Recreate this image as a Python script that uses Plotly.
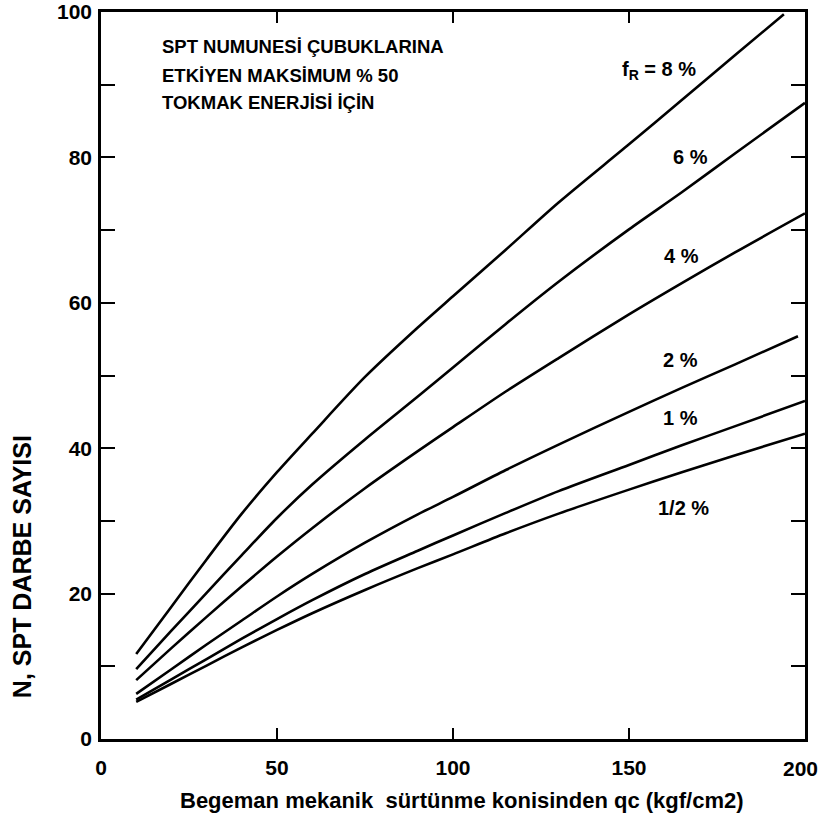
import plotly.graph_objects as go

# x positions (qc, kgf/cm2)
qc = [10, 20, 30, 40, 50, 60, 75, 90, 100, 115, 130, 150, 165, 180, 200]

n_half = [5.1, 7.6, 10.1, 12.6, 15.0, 17.3, 20.5, 23.5, 25.4, 28.3, 31.0, 34.3, 36.7, 39.0, 42.0]
n_1 = [5.4, 8.2, 11.0, 13.8, 16.5, 19.1, 22.7, 25.9, 28.0, 31.1, 34.1, 37.7, 40.4, 43.0, 46.5]
n_2 = [6.2, 9.6, 13.0, 16.3, 19.6, 22.7, 27.0, 30.9, 33.3, 37.0, 40.5, 45.0, 48.3, 51.5, 55.4]
n_4 = [8.1, 12.5, 16.8, 21.0, 25.1, 29.0, 34.5, 39.6, 42.9, 47.8, 52.4, 58.4, 62.7, 66.9, 72.3]
n_6 = [9.6, 14.9, 20.1, 25.3, 30.4, 35.0, 41.2, 47.1, 51.1, 57.1, 62.9, 70.1, 75.2, 80.5, 87.5]

qc_8 = [10, 20, 30, 40, 50, 60, 75, 90, 100, 115, 130, 150, 165, 180, 194]
n_8 = [11.7, 18.2, 24.7, 31.0, 36.7, 42.0, 49.8, 56.6, 60.9, 67.3, 73.8, 81.8, 87.9, 94.0, 99.7]

qc_short = [10, 20, 30, 40, 50, 60, 75, 90, 100, 115, 130, 150, 165, 180, 198]

series = [
    (qc, n_half), (qc, n_1), (qc_short, n_2),
    (qc, n_4), (qc, n_6), (qc_8, n_8),
]

curve_labels = ["1/2 %", "1 %", "2 %", "4 %", "6 %", "f<sub>R</sub> = 8 %"]
label_x = [165.5, 164.5, 164.5, 165, 167.5, 158.5]
label_y = [31.8, 44.2, 52.2, 66.4, 80.0, 92.0]

note_lines = ["SPT NUMUNESİ ÇUBUKLARINA", "ETKİYEN MAKSİMUM % 50", "TOKMAK ENERJİSİ İÇİN"]
note_y = [95.2, 91.3, 87.6]

x_ticks = [0, 50, 100, 150]
last_x_label = "200"
y_ticks = [0, 20, 40, 60, 80, 100]

FONT = "Liberation Sans"

fig = go.Figure()
for xs, ys in series:
    fig.add_trace(go.Scatter(x=xs, y=ys, mode="lines",
                             line=dict(color="black", width=2.6, shape="spline", smoothing=0.8),
                             showlegend=False, hoverinfo="skip"))

for t, x, y in zip(curve_labels, label_x, label_y):
    fig.add_annotation(x=x, y=y, xref="x", yref="y", text=t, showarrow=False,
                       font=dict(family=FONT, size=20, color="black", weight="bold"),
                       xanchor="center", yanchor="middle")

for t, y in zip(note_lines, note_y):
    fig.add_annotation(x=16.7, y=y, xref="x", yref="y", text=t, showarrow=False,
                       font=dict(family=FONT, size=18.5, color="black", weight="bold"),
                       xanchor="left", yanchor="middle")

fig.add_annotation(x=-0.113, y=0.237, xref="paper", yref="paper", text="N, SPT DARBE SAYISI",
                   showarrow=False, textangle=-90, xanchor="center", yanchor="middle",
                   font=dict(family=FONT, size=25, color="black", weight="bold"))
fig.add_annotation(x=0.513, y=-0.084, xref="paper", yref="paper",
                   text="Begeman mekanik  sürtünme konisinden qc (kgf/cm2)", showarrow=False,
                   xanchor="center", yanchor="middle",
                   font=dict(family=FONT, size=22, color="black", weight="bold"))
# last x tick label, kept inside the page edge
fig.add_annotation(x=1.0, y=-0.04, xref="paper", yref="paper", text=last_x_label, showarrow=False,
                   xanchor="center", yanchor="middle", xshift=-5,
                   font=dict(family=FONT, size=21, color="black", weight="bold"))

fig.update_layout(
    width=821, height=818,
    margin=dict(l=101, r=16, t=12, b=79),
    paper_bgcolor="white", plot_bgcolor="white",
    xaxis=dict(range=[0, 200], tickvals=x_ticks, ticks="inside", ticklen=11,
               tickwidth=2, tickcolor="black", automargin=False,
               showline=True, linewidth=2.5, linecolor="black", mirror="allticks",
               showgrid=False, zeroline=False,
               tickfont=dict(family=FONT, size=21, color="black", weight="bold"),
               ticklabelstandoff=8),
    yaxis=dict(range=[0, 100], tickvals=y_ticks, ticks="inside", ticklen=14, tickwidth=2,
               tickcolor="black", automargin=False, ticklabeloverflow="allow",
               showline=True, linewidth=2.5, linecolor="black", mirror="allticks",
               showgrid=False, zeroline=False,
               minor=dict(dtick=10, ticks="inside", ticklen=14, tickwidth=2, tickcolor="black"),
               tickfont=dict(family=FONT, size=21, color="black", weight="bold"),
               ticklabelstandoff=2),
)

fig.write_html("out.html")
